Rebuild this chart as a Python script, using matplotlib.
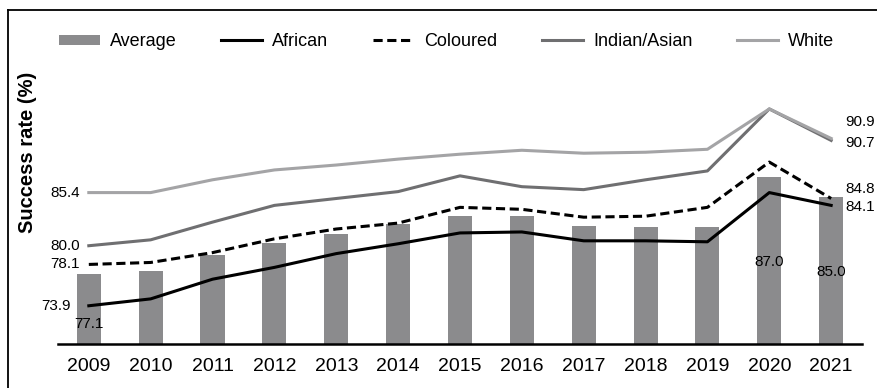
import matplotlib
matplotlib.use("Agg")
import matplotlib.pyplot as plt
from matplotlib.lines import Line2D

plt.rcParams['font.family'] = ['Liberation Sans', 'DejaVu Sans']

# Datos
years = ['2009', '2010', '2011', '2012', '2013', '2014', '2015',
         '2016', '2017', '2018', '2019', '2020', '2021']
average = [77.1, 77.4, 79.1, 80.3, 81.2, 82.2, 83.0, 83.0, 82.0, 81.9, 81.9, 87.0, 85.0]
african = [73.9, 74.6, 76.6, 77.8, 79.2, 80.2, 81.3, 81.4, 80.5, 80.5, 80.4, 85.4, 84.1]
coloured = [78.1, 78.3, 79.3, 80.7, 81.7, 82.3, 83.9, 83.7, 82.9, 83.0, 83.9, 88.5, 84.8]
indian = [80.0, 80.6, 82.4, 84.1, 84.8, 85.5, 87.1, 86.0, 85.7, 86.7, 87.6, 93.9, 90.7]
white = [85.4, 85.4, 86.7, 87.7, 88.2, 88.8, 89.3, 89.7, 89.4, 89.5, 89.8, 93.9, 90.9]

fig = plt.figure(figsize=(8.77, 3.88), dpi=100)
ax = fig.add_axes([0.066, 0.113, 0.917, 0.761])

x = list(range(len(years)))
barras = ax.bar(x, [v - 70 for v in average], bottom=70, width=0.39,
                color='#8b8b8d', zorder=1, label='Average')
l1, = ax.plot(x, african, color='black', lw=2.2, zorder=3, label='African')
l2, = ax.plot(x, coloured, color='black', lw=2.2, dashes=(3, 1.5), zorder=3, label='Coloured')
l3, = ax.plot(x, indian, color='#6f6f71', lw=2.2, zorder=2, label='Indian/Asian')
l4, = ax.plot(x, white, color='#a4a4a6', lw=2.2, zorder=2, label='White')

ax.set_xlim(-0.5, 12.5)
ax.set_ylim(70, 100)
ax.set_xticks(x)
ax.set_xticklabels(years, fontsize=14)
ax.tick_params(axis='x', length=0, pad=10)
ax.set_yticks([])
for s in ['top', 'right', 'left']:
    ax.spines[s].set_visible(False)
ax.spines['bottom'].set_linewidth(1.8)

# Etiquetas de valores
fs = 11
def etiqueta(txt, xy, dx, dy, ha):
    ax.annotate(txt, xy=xy, xytext=(dx, dy), textcoords='offset pixels',
                ha=ha, va='center', fontsize=fs, clip_on=False, zorder=4)

etiqueta('85.4', (0, white[0]), -9, 0, 'right')
etiqueta('80.0', (0, indian[0]), -9, 0, 'right')
etiqueta('78.1', (0, coloured[0]), -9, 0, 'right')
etiqueta('73.9', (0, african[0]), -18, 0, 'right')
etiqueta('77.1', (0, average[0]), 0, -50, 'center')

etiqueta('90.9', (12, white[12]), 14, 16, 'left')
etiqueta('90.7', (12, indian[12]), 14, -3, 'left')
etiqueta('84.8', (12, coloured[12]), 14, 9, 'left')
etiqueta('84.1', (12, african[12]), 14, -2, 'left')

etiqueta('87.0', (11, (70 + average[11]) / 2), 0, -2, 'center')
etiqueta('85.0', (12, (70 + average[12]) / 2), 0, -2, 'center')

fig.text(0.031, 0.607, 'Success rate (%)', rotation=90, fontsize=14.5,
         fontweight='bold', ha='center', va='center')

fig.legend([barras, l1, l2, l3, l4], ['Average', 'African', 'Coloured', 'Indian/Asian', 'White'],
           loc='center', bbox_to_anchor=(0.509, 0.892), ncol=5, frameon=False,
           fontsize=13, handlelength=2.3, handletextpad=0.55, columnspacing=2.45,
           handleheight=0.55)

# Marco de la figura (solo borde superior e izquierdo visibles)
x0 = 8 / 877
y0 = 1 - 10 / 388
fig.add_artist(Line2D([x0, x0], [0, y0], color='black', lw=1.3, transform=fig.transFigure))
fig.add_artist(Line2D([x0, 1], [y0, y0], color='black', lw=1.3, transform=fig.transFigure))

fig.savefig('out.png', dpi=100)
